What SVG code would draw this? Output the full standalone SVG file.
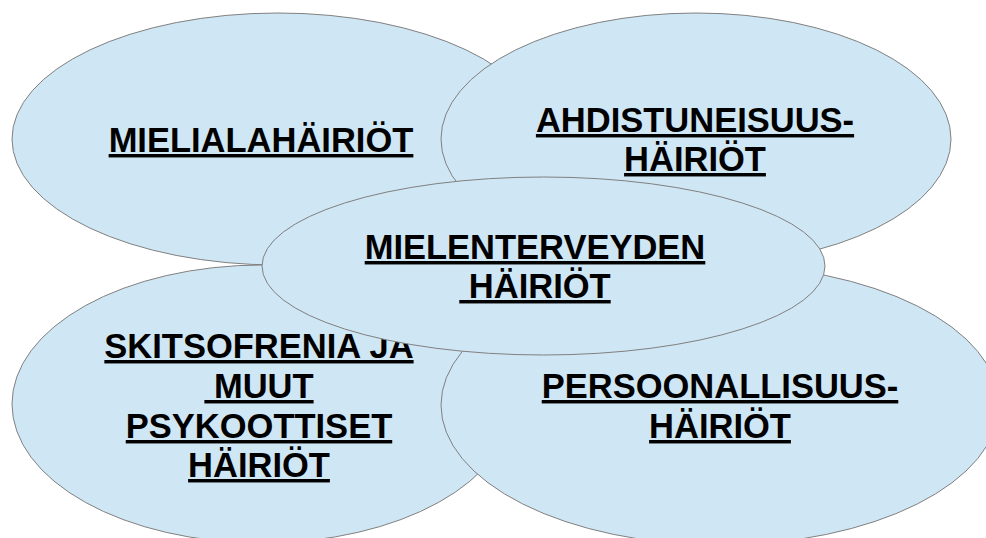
<svg xmlns="http://www.w3.org/2000/svg" width="986" height="538" viewBox="0 0 986 538">
<style>
.bubble{fill:#cfe6f4;stroke:#808080;stroke-width:1}
.lbl{font-family:"Liberation Sans",Arial,sans-serif;font-weight:bold;font-size:34.5px;fill:#000;text-anchor:middle;text-decoration:underline;white-space:pre}
</style>
<rect width="986" height="538" fill="#ffffff"/>
<g id="mielialahairiot">
<ellipse class="bubble" cx="278" cy="139" rx="266" ry="126"/>
<text class="lbl" x="261" y="152">MIELIALAHÄIRIÖT</text>
</g>
<g id="ahdistuneisuushairiot">
<ellipse class="bubble" cx="696" cy="139" rx="255" ry="126"/>
<text class="lbl" x="695" y="132">AHDISTUNEISUUS-</text>
<text class="lbl" x="695" y="171">HÄIRIÖT</text>
</g>
<g id="skitsofrenia">
<ellipse class="bubble" cx="262" cy="404" rx="250" ry="139"/>
<text class="lbl" x="259" y="358" xml:space="preserve">SKITSOFRENIA JA</text>
<text class="lbl" x="259" y="398" xml:space="preserve"> MUUT</text>
<text class="lbl" x="259" y="438">PSYKOOTTISET</text>
<text class="lbl" x="259" y="477">HÄIRIÖT</text>
</g>
<g id="persoonallisuushairiot">
<ellipse class="bubble" cx="720" cy="405" rx="279" ry="140"/>
<text class="lbl" x="720" y="398">PERSOONALLISUUS-</text>
<text class="lbl" x="720" y="438">HÄIRIÖT</text>
</g>
<g id="mielenterveyden">
<ellipse class="bubble" cx="543.5" cy="266" rx="281.5" ry="89"/>
<text class="lbl" x="535" y="259">MIELENTERVEYDEN</text>
<text class="lbl" x="535" y="298" xml:space="preserve"> HÄIRIÖT</text>
</g>
<g id="connectors"/>
</svg>
